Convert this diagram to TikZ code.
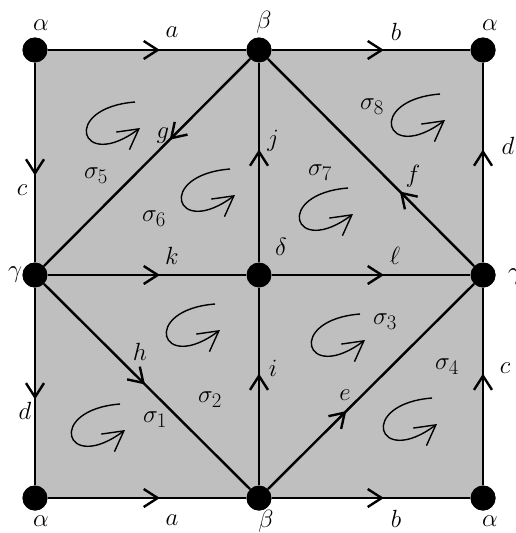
\documentclass[tikz,border=0pt]{standalone}
\usetikzlibrary{arrows.meta,decorations.markings}
\begin{document}
\begin{tikzpicture}[x=1pt,y=-1pt,
  vert/.style={circle,fill=black,minimum size=25pt,inner sep=0pt},
  lab/.style={inner sep=0pt,font=\Huge},
  ed/.style={line width=2.4pt, postaction={decorate}, decoration={markings, mark=at position #1 with {\arrow{Straight Barb[length=14pt,width=18pt,line width=2.4pt]}}}},
  ed/.default=0.565,
  loopy/.pic={\draw[line width=1.4pt,-{Straight Barb[length=20pt,width=22pt]}] (25,-26) .. controls (-50,-20) and (-30,45) .. (30,0);}
]
\useasboundingbox (0,0) rectangle (515,533);
\node[vert] (A1) at (35,50) {};
\node[vert] (B1) at (259,50) {};
\node[vert] (A2) at (483,50) {};
\node[vert] (G1) at (35,275) {};
\node[vert] (D) at (259,275) {};
\node[vert] (G2) at (483,275) {};
\node[vert] (A3) at (35,498) {};
\node[vert] (B2) at (259,498) {};
\node[vert] (A4) at (483,498) {};
\fill[black!25] (A1.center) rectangle (A4.center);
\draw[ed] (A1) -- (B1);
\draw[ed] (B1) -- (A2);
\draw[ed] (A3) -- (B2);
\draw[ed] (B2) -- (A4);
\draw[ed] (A1) -- (G1);
\draw[ed] (G1) -- (A3);
\draw[ed] (G2) -- (A2);
\draw[ed] (A4) -- (G2);
\draw[ed] (B2) -- (D);
\draw[ed] (D) -- (B1);
\draw[ed] (G1) -- (D);
\draw[ed] (D) -- (G2);
\draw[ed=0.39] (B1) -- (G1);
\draw[ed=0.49] (G1) -- (B2);
\draw[ed=0.38] (B2) -- (G2);
\draw[ed=0.36] (G2) -- (B1);
\foreach \n in {A1,B1,A2,G1,D,G2,A3,B2,A4} \fill (\n) circle (12.5pt);
% loops
\pic at (110,128) {loopy};
\pic at (205,195) {loopy};
\pic at (323,214) {loopy};
\pic at (415,120) {loopy};
\pic at (190,330) {loopy};
\pic at (335,340) {loopy};
\pic at (407,424) {loopy};
\pic at (95,430) {loopy};
% vertex labels
\node[lab] (lA1) at (41,25) {$\alpha$};
\node[lab] (lB1) at (264,22) {$\beta$};
\node[lab] (lA2) at (490,25) {$\alpha$};
\node[lab] (lG1) at (15,275) {$\gamma$};
\node[lab] (lD) at (281,247) {$\delta$};
\node[lab] (lG2) at (515,277) {$\gamma$};
\node[lab] (lA3) at (41,521) {$\alpha$};
\node[lab] (lB2) at (266,521) {$\beta$};
\node[lab] (lA4) at (490,521) {$\alpha$};
% edge labels
\node[lab] (la1) at (172,32) {$a$};
\node[lab] (lb1) at (396,32) {$b$};
\node[lab] (la2) at (172,520) {$a$};
\node[lab] (lb2) at (396,519) {$b$};
\node[lab] (lc1) at (22,190) {$c$};
\node[lab] (ld1) at (25,411) {$d$};
\node[lab] (ld2) at (508,146) {$d$};
\node[lab] (lc2) at (505,368) {$c$};
\node[lab] (li) at (273,368) {$i$};
\node[lab] (lj) at (273,141) {$j$};
\node[lab] (lk) at (172,256) {$k$};
\node[lab] (ll) at (395,256) {$\ell$};
\node[lab] (lg) at (163,136) {$g$};
\node[lab] (lh) at (140,352) {$h$};
\node[lab] (le) at (345,395) {$e$};
\node[lab] (lf) at (413,176) {$f$};
% face labels
\node[lab] (s5) at (96,176) {$\sigma_5$};
\node[lab] (s6) at (154,219) {$\sigma_6$};
\node[lab] (s7) at (320,173) {$\sigma_7$};
\node[lab] (s8) at (372,107) {$\sigma_8$};
\node[lab] (s3) at (385,322) {$\sigma_3$};
\node[lab] (s4) at (447,367) {$\sigma_4$};
\node[lab] (s2) at (210,400) {$\sigma_2$};
\node[lab] (s1) at (155,420) {$\sigma_1$};
\end{tikzpicture}
\end{document}
